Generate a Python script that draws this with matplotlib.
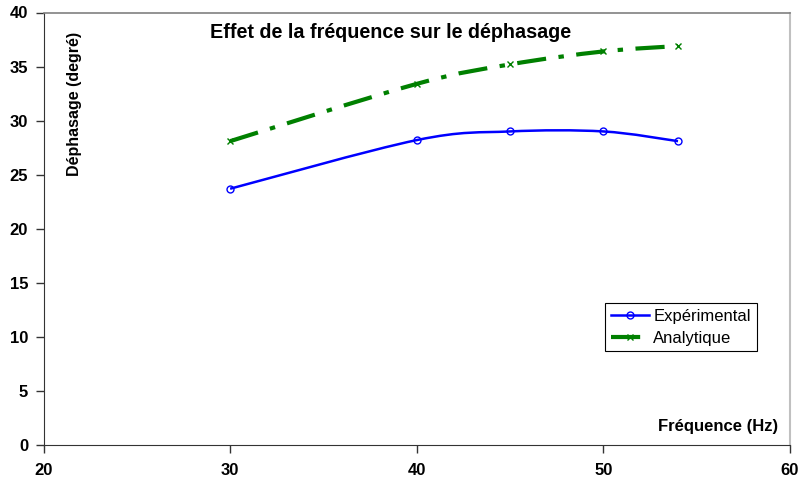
import numpy as np
import matplotlib.pyplot as plt
from matplotlib.path import Path
from matplotlib.patches import PathPatch
from matplotlib.lines import Line2D

plt.rcParams['font.family'] = ['Liberation Sans', 'DejaVu Sans']

freq = [30, 40, 45, 50, 54]
experimental = [23.7, 28.2, 29.0, 29.0, 28.1]
analytique = [28.1, 33.4, 35.2, 36.4, 36.9]


def smooth_path(x, y):
    # courbe lissée type Excel (Bezier par Catmull-Rom)
    x = np.asarray(x, float)
    y = np.asarray(y, float)
    verts = [(x[0], y[0])]
    codes = [Path.MOVETO]
    n = len(x)
    for i in range(n - 1):
        i0 = max(i - 1, 0)
        i3 = min(i + 2, n - 1)
        c1 = (x[i] + (x[i + 1] - x[i0]) / 6, y[i] + (y[i + 1] - y[i0]) / 6)
        c2 = (x[i + 1] - (x[i3] - x[i]) / 6, y[i + 1] - (y[i3] - y[i]) / 6)
        verts += [c1, c2, (x[i + 1], y[i + 1])]
        codes += [Path.CURVE4] * 3
    return Path(verts, codes)


green_ls = (0, (7, 3, 1.3, 3))

fig = plt.figure(figsize=(7.98, 4.82), dpi=100)
ax = fig.add_axes([43.5 / 798, 1 - 445 / 482, (790 - 43.5) / 798, (445 - 12.5) / 482])

ax.add_patch(PathPatch(smooth_path(freq, experimental), fill=False,
                       edgecolor='#0000ff', lw=1.8))
ax.add_patch(PathPatch(smooth_path(freq, analytique), fill=False,
                       edgecolor='#008000', lw=3, linestyle=green_ls))
ax.plot(freq, experimental, ls='none', marker='o', ms=5, mfc='none',
        mec='#0000ff', mew=1)
ax.plot(freq, analytique, ls='none', marker='x', ms=5, mec='#008000', mew=1)

ax.set_xlim(20, 60)
ax.set_ylim(0, 40)
ax.set_xticks([20, 30, 40, 50, 60])
ax.set_yticks(range(0, 41, 5))
ax.tick_params(direction='out', length=6, width=1, labelsize=12, color='#333333')
for lab in ax.get_xticklabels() + ax.get_yticklabels():
    lab.set_fontweight('bold')
ax.tick_params(axis='x', pad=7)
ax.tick_params(axis='y', pad=5)

ax.spines['left'].set_color('#333333')
ax.spines['bottom'].set_color('#333333')
ax.spines['top'].set_color('#808080')
ax.spines['top'].set_linewidth(1.2)
ax.spines['right'].set_color('#c0c0c0')
ax.spines['right'].set_linewidth(1.5)

fig.text(391 / 798, 1 - 33 / 482, 'Effet de la fréquence sur le déphasage',
         ha='center', va='center', fontsize=14.2, fontweight='bold')
fig.text(75 / 798, 1 - 104 / 482, 'Déphasage (degré)', rotation=90,
         ha='center', va='center', fontsize=11.5, fontweight='bold')
fig.text(778 / 798, 1 - 427 / 482, 'Fréquence (Hz)', ha='right', va='center',
         fontsize=12, fontweight='bold')

handles = [
    Line2D([], [], color='#0000ff', lw=1.8, marker='o', ms=5, mfc='none', mew=1),
    Line2D([], [], color='#008000', lw=3, marker='x', ms=5, mew=1,
           linestyle=green_ls),
]
leg = ax.legend(handles, ['Expérimental', 'Analytique'], loc='upper left',
                bbox_to_anchor=((605 - 43.5) / 746.5, 1 - (303 - 12.5) / 432.5),
                fontsize=12, fancybox=False, framealpha=1, edgecolor='black',
                handlelength=2.3, handletextpad=0.25, borderpad=0.35,
                labelspacing=0.4, borderaxespad=0)
leg.get_frame().set_linewidth(0.8)

fig.savefig('out.png', dpi=100)
